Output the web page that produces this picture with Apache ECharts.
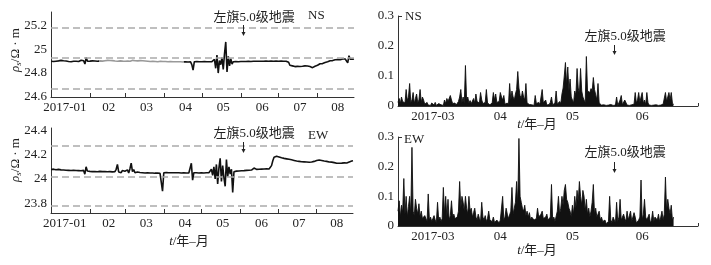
<!DOCTYPE html>
<html>
<head>
<meta charset="utf-8">
<script src="https://cdn.jsdelivr.net/npm/echarts@6/dist/echarts.min.js"></script>
</head>
<body style="margin:0;background:#fff">
<div id="container" style="width:711px;height:265px"></div>
<script>
// x is day of year, 2017-01-01 = 0
var monthStarts = [31, 59, 90, 120, 151, 181, 212];
var leftLabelDays = [11, 46, 76, 107, 137, 168, 198, 228];
var leftLabels = ['2017-01', '02', '03', '04', '05', '06', '07', '08'];
var rightLabelDays = [75, 104, 135, 165];
var rightLabels = ['2017-03', '04', '05', '06'];
var quakeDay = 153;

// apparent resistivity, one value per day (Ω·m)
var nsRho = [
  24.898, 24.903, 24.896, 24.905, 24.899, 24.893, 24.902, 24.897, 24.906, 24.899,
  24.903, 24.895, 24.901, 24.905, 24.897, 24.902, 24.894, 24.904, 24.899, 24.906,
  24.898, 24.903, 24.896, 24.901, 24.907, 24.893, 24.902, 24.875, 24.93, 24.899,
  24.903, 24.9, 24.905, 24.902, 24.906, 24.901, 24.904, 24.899, 24.906, 24.902,
  24.905, 24.9, 24.907, 24.903, 24.899, 24.906, 24.902, 24.905, 24.9, 24.904,
  24.907, 24.901, 24.904, 24.899, 24.905, 24.902, 24.906, 24.9, 24.903, 24.899,
  24.905, 24.901, 24.904, 24.898, 24.902, 24.906, 24.9, 24.903, 24.897, 24.902,
  24.899, 24.904, 24.9, 24.903, 24.897, 24.901, 24.905, 24.899, 24.902, 24.896,
  24.901, 24.898, 24.903, 24.897, 24.9, 24.895, 24.902, 24.898, 24.901, 24.896,
  24.9, 24.897, 24.901, 24.895, 24.899, 24.896, 24.9, 24.894, 24.898, 24.895,
  24.899, 24.894, 24.898, 24.895, 24.899, 24.893, 24.897, 24.894, 24.898, 24.892,
  24.896, 24.893, 24.87, 24.825, 24.895, 24.892, 24.896, 24.893, 24.895, 24.891,
  24.895, 24.892, 24.896, 24.893, 24.895, 24.892, 24.894, 24.891, 24.895, 24.892,
  24.915, 24.84, 24.95, 24.8, 24.905, 24.87, 24.93, 24.83, 24.96, 25.06,
  24.81, 24.94, 24.86, 24.92, 24.875, 24.895, 24.892, 24.896, 24.893, 24.895,
  24.892, 24.896, 24.894, 24.897, 24.893, 24.896, 24.894, 24.898, 24.895, 24.897,
  24.894, 24.898, 24.895, 24.899, 24.896, 24.898, 24.895, 24.899, 24.897, 24.899,
  24.896, 24.9, 24.897, 24.899, 24.896, 24.9, 24.898, 24.899, 24.896, 24.9,
  24.897, 24.899, 24.896, 24.9, 24.898, 24.899, 24.897, 24.899, 24.896, 24.89,
  24.865, 24.856, 24.86, 24.857, 24.854, 24.859, 24.856, 24.858, 24.855, 24.86,
  24.857, 24.855, 24.86, 24.856, 24.859, 24.857, 24.854, 24.858, 24.845, 24.859,
  24.857, 24.86, 24.865, 24.872, 24.878, 24.881, 24.879, 24.884, 24.888, 24.891,
  24.894, 24.899, 24.903, 24.906, 24.904, 24.908, 24.911, 24.909, 24.912, 24.914,
  24.911, 24.916, 24.918, 24.92, 24.917, 24.919, 24.885, 24.945, 24.916, 24.914,
  24.916, 24.918
];
var ewRho = [
  24.078, 24.072, 24.081, 24.07, 24.076, 24.068, 24.079, 24.071, 24.075, 24.069,
  24.074, 24.067, 24.072, 24.065, 24.071, 24.064, 24.07, 24.066, 24.072, 24.063,
  24.07, 24.065, 24.069, 24.062, 24.068, 24.064, 24.071, 24.04, 24.1, 24.066,
  24.069, 24.063, 24.067, 24.061, 24.066, 24.062, 24.068, 24.06, 24.066, 24.063,
  24.065, 24.061, 24.067, 24.062, 24.064, 24.06, 24.066, 24.061, 24.063, 24.059,
  24.065, 24.06, 24.08, 24.12, 24.058, 24.066, 24.052, 24.07, 24.055, 24.064,
  24.058, 24.075, 24.05, 24.085, 24.13, 24.06, 24.078, 24.052, 24.068, 24.057,
  24.062, 24.054, 24.059, 24.052, 24.057, 24.05, 24.056, 24.051, 24.055, 24.049,
  24.054, 24.05, 24.055, 24.048, 24.053, 24.049, 24.054, 24.047, 24.052, 23.9,
  24.052, 24.048, 24.053, 24.049, 24.052, 24.048, 24.051, 24.047, 24.052, 24.049,
  24.051, 24.047, 24.052, 24.048, 24.05, 24.047, 24.051, 24.048, 24.05, 24.046,
  24.05, 24.04, 24.13, 23.99, 24.052, 24.048, 24.051, 24.047, 24.05, 24.048,
  24.051, 24.047, 24.05, 24.049, 24.052, 24.048, 24.051, 24.05, 24.08, 24.03,
  24.1, 24.0, 24.12, 23.96, 24.09, 24.17, 23.98, 24.11, 24.01, 23.94,
  24.16, 24.02, 24.1, 24.04, 24.08, 23.89, 24.06, 24.068, 24.065, 24.07,
  24.066, 24.071, 24.068, 24.073, 24.069, 24.074, 24.071, 24.076, 24.072, 24.077,
  24.074, 24.078, 24.09, 24.075, 24.079, 24.076, 24.08, 24.077, 24.081, 24.078,
  24.082, 24.079, 24.083, 24.08, 24.082, 24.085, 24.11, 24.15, 24.18, 24.19,
  24.188, 24.185, 24.182, 24.178, 24.175, 24.173, 24.17, 24.168, 24.166, 24.163,
  24.162, 24.16, 24.158, 24.155, 24.153, 24.15, 24.148, 24.146, 24.145, 24.143,
  24.142, 24.14, 24.141, 24.139, 24.14, 24.142, 24.138, 24.141, 24.14, 24.143,
  24.145, 24.148, 24.152, 24.155, 24.156, 24.154, 24.152, 24.15, 24.148, 24.147,
  24.145, 24.143, 24.14, 24.142, 24.139, 24.137, 24.135, 24.133, 24.13, 24.132,
  24.13, 24.128, 24.131, 24.129, 24.133, 24.135, 24.132, 24.136, 24.14, 24.145,
  24.148, 24.15
];
var nsLines = [25.18, 24.925, 24.67];
var ewLines = [24.27, 24.025, 23.78];
// stretch of the NS record drawn in light grey (sparse samples)
var nsFaint = [38, 106];

// right panels: two samples per day starting at day 60
var rightStart = 60;
var nsRight = [
  0.012, 0.025, 0.008, 0.03, 0.015, 0.02, 0.01, 0.055, 0.018, 0.03,
  0.075, 0.012, 0.02, 0.045, 0.008, 0.025, 0.04, 0.01, 0.02, 0.055,
  0.012, 0.03, 0.02, 0.006, 0.004, 0.012, 0.003, 0.008, 0.002, 0.01,
  0.004, 0.003, 0.012, 0.002, 0.003, 0.008, 0.002, 0.004, 0.003, 0.002,
  0.02, 0.008, 0.025, 0.015, 0.01, 0.035, 0.02, 0.008, 0.004, 0.01,
  0.003, 0.006, 0.015, 0.03, 0.055, 0.012, 0.03, 0.008, 0.135, 0.02,
  0.03, 0.01, 0.018, 0.008, 0.012, 0.025, 0.01, 0.04, 0.015, 0.02,
  0.01, 0.045, 0.02, 0.008, 0.006, 0.012, 0.055, 0.01, 0.008, 0.004,
  0.003, 0.01, 0.045, 0.02, 0.04, 0.012, 0.008, 0.015, 0.045, 0.03,
  0.02, 0.035, 0.006, 0.004, 0.01, 0.003, 0.075, 0.02, 0.05, 0.03,
  0.02, 0.04, 0.055, 0.115, 0.06, 0.035, 0.025, 0.05, 0.03, 0.02,
  0.075, 0.01, 0.012, 0.005, 0.003, 0.004, 0.01, 0.002, 0.035, 0.008,
  0.004, 0.012, 0.005, 0.003, 0.055, 0.01, 0.004, 0.02, 0.003, 0.002,
  0.005, 0.012, 0.03, 0.004, 0.003, 0.01, 0.05, 0.006, 0.01, 0.015,
  0.008, 0.04, 0.06, 0.1, 0.145, 0.07, 0.13, 0.05, 0.09, 0.03,
  0.02, 0.01, 0.05, 0.035, 0.125, 0.06, 0.04, 0.125, 0.05, 0.03,
  0.02, 0.01, 0.165, 0.05, 0.055, 0.045, 0.058, 0.05, 0.095, 0.055,
  0.05, 0.02, 0.075, 0.01, 0.005, 0.003, 0.002, 0.004, 0.003, 0.002,
  0.004, 0.003, 0.002, 0.005, 0.003, 0.002, 0.004, 0.003, 0.03, 0.002,
  0.003, 0.02, 0.035, 0.004, 0.005, 0.02, 0.02, 0.003, 0.004, 0.002,
  0.003, 0.004, 0.002, 0.006, 0.045, 0.01, 0.02, 0.045, 0.012, 0.03,
  0.045, 0.008, 0.02, 0.004, 0.045, 0.01, 0.003, 0.005, 0.002, 0.004,
  0.003, 0.002, 0.004, 0.003, 0.002, 0.004, 0.003, 0.002, 0.006, 0.004,
  0.045, 0.015, 0.03, 0.045, 0.02, 0.045, 0.01, 0.004
];
var ewRight = [
  0.05, 0.085, 0.03, 0.07, 0.045, 0.16, 0.04, 0.1, 0.03, 0.065,
  0.1, 0.04, 0.265, 0.05, 0.035, 0.09, 0.06, 0.04, 0.075, 0.03,
  0.05, 0.025, 0.02, 0.035, 0.03, 0.015, 0.108, 0.02, 0.03, 0.015,
  0.025, 0.035, 0.02, 0.012, 0.08, 0.02, 0.03, 0.015, 0.025, 0.13,
  0.04, 0.1, 0.03, 0.09, 0.02, 0.035, 0.085, 0.03, 0.04, 0.025,
  0.02, 0.03, 0.05, 0.15, 0.06, 0.1, 0.08, 0.05, 0.1, 0.06,
  0.04, 0.1, 0.05, 0.06, 0.03, 0.045, 0.06, 0.03, 0.02, 0.04,
  0.025, 0.015, 0.08, 0.03, 0.02, 0.035, 0.015, 0.025, 0.05, 0.02,
  0.02, 0.015, 0.03, 0.012, 0.015, 0.02, 0.025, 0.01, 0.02, 0.015,
  0.1, 0.02, 0.03, 0.06, 0.04, 0.025, 0.02, 0.05, 0.13, 0.04,
  0.06, 0.08, 0.15, 0.07, 0.295, 0.1, 0.08, 0.06, 0.05, 0.07,
  0.035, 0.05, 0.03, 0.045, 0.02, 0.03, 0.035, 0.02, 0.015, 0.025,
  0.06, 0.03, 0.03, 0.04, 0.05, 0.025, 0.02, 0.03, 0.04, 0.02,
  0.015, 0.03, 0.14, 0.02, 0.03, 0.015, 0.02, 0.05, 0.1, 0.04,
  0.06, 0.1, 0.07, 0.12, 0.14, 0.09, 0.08, 0.06, 0.05, 0.03,
  0.07, 0.04, 0.1, 0.06, 0.12, 0.08, 0.15, 0.1, 0.07, 0.12,
  0.1, 0.05, 0.09, 0.04, 0.06, 0.03, 0.05, 0.08, 0.14, 0.04,
  0.06, 0.03, 0.04, 0.05, 0.02, 0.03, 0.015, 0.01, 0.02, 0.008,
  0.01, 0.015, 0.1, 0.02, 0.012, 0.03, 0.02, 0.01, 0.08, 0.015,
  0.03, 0.09, 0.02, 0.015, 0.04, 0.025, 0.015, 0.05, 0.02, 0.035,
  0.05, 0.015, 0.02, 0.045, 0.03, 0.01, 0.015, 0.02, 0.03, 0.155,
  0.02, 0.04, 0.09, 0.03, 0.02, 0.015, 0.04, 0.01, 0.02, 0.05,
  0.015, 0.03, 0.025, 0.02, 0.04, 0.015, 0.03, 0.05, 0.02, 0.04,
  0.165, 0.05, 0.09, 0.06, 0.04, 0.07, 0.02, 0.03
];

var FONT = "'Liberation Serif', 'Noto Sans CJK SC', serif";
var INK = '#222';

function dayPairs(arr) {
  return arr.map(function (v, i) { return [i, v]; });
}
function halfDayPairs(arr) {
  return arr.map(function (v, i) { return [rightStart + i / 2, v]; });
}

function xAxisLeft(idx) {
  return {
    type: 'value', gridIndex: idx, min: 0, max: 241,
    axisLine: { show: true, onZero: false, lineStyle: { color: '#333', width: 1 } },
    axisTick: { show: true, inside: true, length: 4, customValues: monthStarts, lineStyle: { color: '#333' } },
    axisLabel: {
      customValues: leftLabelDays, margin: 4, color: INK, fontSize: 13, fontFamily: FONT,
      formatter: function (v) { return leftLabels[leftLabelDays.indexOf(v)]; }
    },
    splitLine: { show: false }
  };
}
function xAxisRight(idx) {
  return {
    type: 'value', gridIndex: idx, min: 60, max: 189,
    axisLine: { show: true, onZero: false, lineStyle: { color: '#333', width: 1 } },
    axisTick: { show: true, inside: true, length: 3, customValues: [189], lineStyle: { color: '#333' } },
    axisLabel: {
      customValues: rightLabelDays, margin: 4, color: INK, fontSize: 13, fontFamily: FONT,
      formatter: function (v) { return rightLabels[rightLabelDays.indexOf(v)]; }
    },
    splitLine: { show: false }
  };
}
function yAxis(idx, min, max, labels, topTick) {
  return {
    type: 'value', gridIndex: idx, min: min, max: max,
    axisLine: { show: true, onZero: false, lineStyle: { color: '#333', width: 1 } },
    axisTick: { show: !!topTick, inside: true, length: 4, customValues: topTick ? [max] : undefined, lineStyle: { color: '#333' } },
    axisLabel: { customValues: labels, margin: 4, color: INK, fontSize: 13, fontFamily: FONT },
    splitLine: { show: false }
  };
}
function guideLines(vals) {
  return {
    silent: true, symbol: 'none', label: { show: false },
    lineStyle: { type: [7, 4], color: '#aaa', width: 1.5 },
    data: vals.map(function (v) { return { yAxis: v }; })
  };
}

var chart = echarts.init(document.getElementById('container'), null, { renderer: 'canvas' });
var option = {
  animation: false,
  backgroundColor: '#fff',
  grid: [
    { left: 51, top: 12, width: 303, height: 85 },
    { left: 51, top: 128, width: 302, height: 85 },
    { left: 398, top: 16, width: 300, height: 90 },
    { left: 398, top: 137, width: 300, height: 89 }
  ],
  xAxis: [xAxisLeft(0), xAxisLeft(1), xAxisRight(2), xAxisRight(3)],
  yAxis: [
    yAxis(0, 24.6, 25.31, [24.6, 24.8, 25, 25.2]),
    yAxis(1, 23.72, 24.42, [23.8, 24, 24.2, 24.4]),
    yAxis(2, 0, 0.3, [0, 0.1, 0.2, 0.3], true),
    yAxis(3, 0, 0.3, [0, 0.1, 0.2, 0.3], true)
  ],
  visualMap: [{
    type: 'piecewise', show: false, seriesIndex: 0, dimension: 0,
    pieces: [
      { lt: nsFaint[0], color: '#111' },
      { gte: nsFaint[0], lt: nsFaint[1], color: '#999' },
      { gte: nsFaint[1], color: '#111' }
    ]
  }],
  series: [
    { type: 'line', xAxisIndex: 0, yAxisIndex: 0, data: dayPairs(nsRho), symbol: 'none',
      lineStyle: { width: 1.6 }, markLine: guideLines(nsLines) },
    { type: 'line', xAxisIndex: 1, yAxisIndex: 1, data: dayPairs(ewRho), symbol: 'none',
      lineStyle: { color: '#111', width: 1.6 }, markLine: guideLines(ewLines) },
    { type: 'line', xAxisIndex: 2, yAxisIndex: 2, data: halfDayPairs(nsRight), symbol: 'none',
      lineStyle: { color: '#111', width: 0.9 }, areaStyle: { color: '#111', opacity: 1 } },
    { type: 'line', xAxisIndex: 3, yAxisIndex: 3, data: halfDayPairs(ewRight), symbol: 'none',
      lineStyle: { color: '#111', width: 0.9 }, areaStyle: { color: '#111', opacity: 1 } }
  ]
};
chart.setOption(option);

// annotations
function txt(x, y, text, align) {
  return { type: 'text', z: 10,
    style: { x: x, y: y, text: text, fill: INK, font: '13px ' + FONT, align: align || 'left', verticalAlign: 'middle' } };
}
function arrow(x, y1, y2) {
  return [
    { type: 'line', shape: { x1: x, y1: y1, x2: x, y2: y2 - 3 }, style: { stroke: '#222', lineWidth: 1 }, z: 10 },
    { type: 'polygon', shape: { points: [[x - 2, y2 - 4], [x + 2, y2 - 4], [x, y2]] }, style: { fill: '#222' }, z: 10 }
  ];
}
var richName = {
  i: { fontStyle: 'italic', fontSize: 13, fontFamily: FONT, fill: INK },
  n: { fontSize: 13, fontFamily: FONT, fill: INK },
  s: { fontStyle: 'italic', fontSize: 9, fontFamily: FONT, fill: INK, padding: [6, 0, 0, 0] }
};
var quakeText = '左旗5.0级地震';
var panels = [
  { grid: 0, textY: 17.5, a1: 25, a2: 36, tag: 'NS', tagX: 308, tagY: 16 },
  { grid: 1, textY: 134, a1: 142, a2: 153, tag: 'EW', tagX: 308, tagY: 136 },
  { grid: 2, textY: 37, a1: 45, a2: 55, tag: 'NS', tagX: 405, tagY: 17 },
  { grid: 3, textY: 153, a1: 162, a2: 173, tag: 'EW', tagX: 404, tagY: 140 }
];
var elements = [];
panels.forEach(function (p) {
  var px = Math.round(chart.convertToPixel({ xAxisIndex: p.grid }, quakeDay)) + 0.5;
  elements.push(txt(px - 30, p.textY, quakeText));
  elements = elements.concat(arrow(px, p.a1, p.a2));
  elements.push(txt(p.tagX, p.tagY, p.tag));
});
var yName = '{i|ρ}{s|s}{n|/Ω · m}';
[[16, 50], [16, 160]].forEach(function (c) {
  elements.push({ type: 'text', x: c[0], y: c[1], rotation: Math.PI / 2, z: 10,
    style: { text: yName, rich: richName, align: 'center', verticalAlign: 'middle' } });
});
var xName = '{i|t}{n|/年–月}';
[[189, 241.5], [537, 125], [537, 251]].forEach(function (c) {
  elements.push({ type: 'text', x: c[0], y: c[1], z: 10,
    style: { text: xName, rich: richName, align: 'center', verticalAlign: 'middle' } });
});
chart.setOption({ graphic: { elements: elements } });
</script>
</body>
</html>
